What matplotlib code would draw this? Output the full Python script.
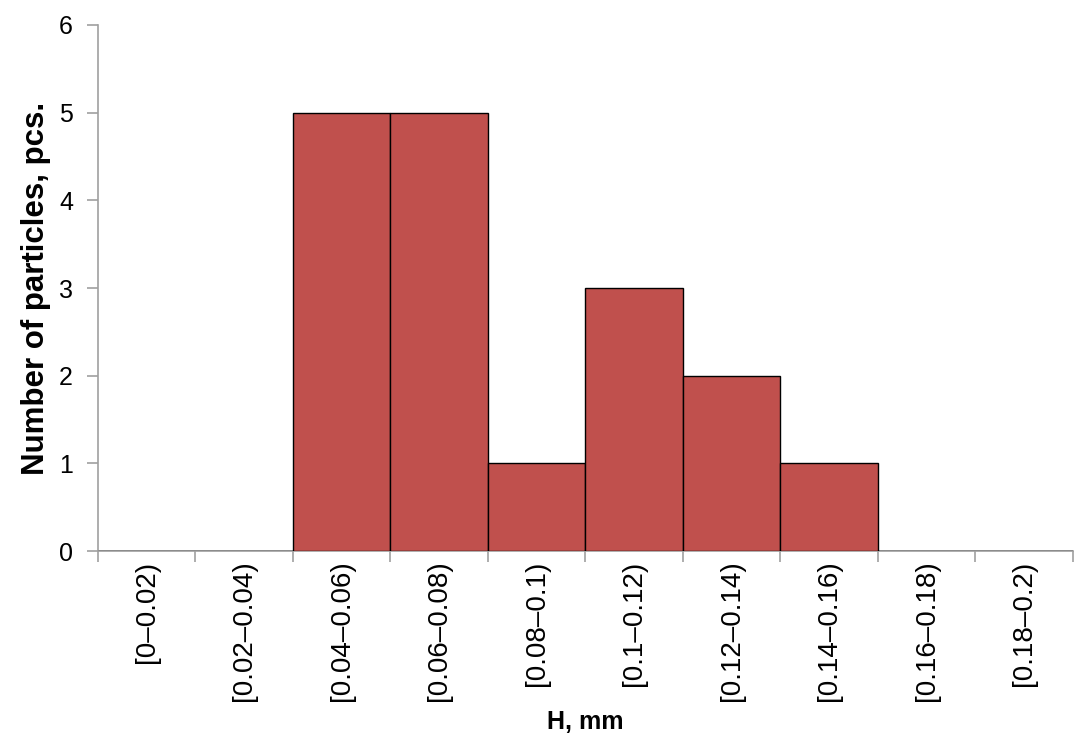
import numpy as np
import matplotlib.pyplot as plt

plt.rcParams['font.family'] = ['Liberation Sans', 'DejaVu Sans']

bins = ["[0–0.02)", "[0.02–0.04)", "[0.04–0.06)", "[0.06–0.08)", "[0.08–0.1)",
        "[0.1–0.12)", "[0.12–0.14)", "[0.14–0.16)", "[0.16–0.18)", "[0.18–0.2)"]
counts = [0, 0, 5, 5, 1, 3, 2, 1, 0, 0]

fig = plt.figure(figsize=(10.91, 7.44), dpi=100)
ax = fig.add_axes([0.0898, 0.2594, 0.8937, 0.707])

x = np.arange(len(bins))
ax.bar(x, counts, width=1.0, color="#C0504D", edgecolor="black", linewidth=1.0, zorder=3)

ax.set_xlim(-0.5, len(bins) - 0.5)
ax.set_ylim(0, 6)
ax.set_yticks(range(7))

# tick marks on the bin edges, labels in the middle
ax.set_xticks(np.arange(len(bins) + 1) - 0.5)
ax.set_xticklabels([])
ax.set_xticks(x, minor=True)
ax.set_xticklabels(bins, minor=True, rotation=90, fontsize=20)
ax.tick_params(axis='x', which='minor', length=0, pad=7)
ax.tick_params(axis='x', which='major', length=8, color="#a0a0a0", width=1.2)
ax.tick_params(axis='y', length=8, color="#a0a0a0", width=1.2, labelsize=18, pad=10)

for s in ["top", "right"]:
    ax.spines[s].set_visible(False)
for s in ["left", "bottom"]:
    ax.spines[s].set_color("#a0a0a0")
    ax.spines[s].set_linewidth(1.2)

ax.set_ylabel("Number of particles, pcs.", fontsize=22.5, fontweight="bold", labelpad=6)
ax.set_xlabel("H, mm", fontsize=18, fontweight="bold", labelpad=6)

fig.savefig("out.png", dpi=100)
